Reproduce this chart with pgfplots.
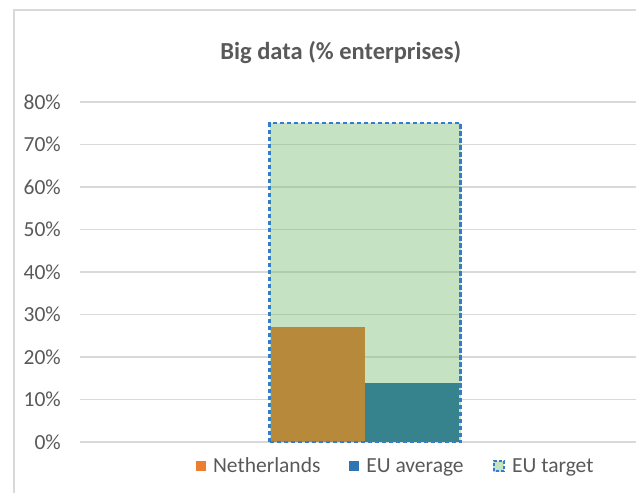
\documentclass[border=0pt]{standalone}
\usepackage{fontspec}
\setmainfont{Carlito}
\usepackage{pgfplots}
\pgfplotsset{compat=1.18}
\definecolor{txt}{RGB}{89,89,89}
\definecolor{gridc}{RGB}{217,217,217}
\definecolor{nl}{RGB}{182,138,58}
\definecolor{avg}{RGB}{54,131,142}
\definecolor{tgt}{RGB}{117,188,112}
\definecolor{tgtline}{RGB}{52,125,205}
\definecolor{leg1}{RGB}{237,125,49}
\definecolor{leg2}{RGB}{46,117,182}
\definecolor{tgtlight}{RGB}{197,227,195}
\begin{document}
\begin{tikzpicture}[x=1pt,y=1pt]
\useasboundingbox (0,0) rectangle (636,492);
\draw[gridc, line width=2pt] (14,-2) -- (14,482) -- (640,482);
\begin{axis}[at={(80pt,50pt)}, anchor=south west, scale only axis, width=556pt, height=340pt,
 xmin=-285, xmax=271, ymin=0, ymax=80,
 axis line style={draw=none}, xtick=\empty, ytick={0,10,...,80},
 major tick length=0pt,
 ymajorgrids, grid style={gridc, line width=1.3pt},
 yticklabel={\pgfmathprintnumber{\tick}\%},
 yticklabel style={inner sep=0pt, xshift=-19pt, font=\fontsize{21.5}{25}\selectfont, text=txt, anchor=east},
 /pgf/number format/assume math mode=true,
 title={Big data (\% enterprises)},
 title style={at={(axis description cs:0.469,1.127)}, anchor=center, font=\fontsize{24.5}{28}\selectfont\bfseries, text=txt},
 legend columns=3,
 legend style={at={(axis description cs:0.2086,-0.0706)}, anchor=west, draw=none, fill=none, inner sep=0pt, font=\fontsize{21.5}{25}\selectfont, nodes={text=txt},
   /tikz/every even column/.append style={column sep=27pt},
   /tikz/every odd column/.append style={column sep=5.5pt}},
 clip=false,
]
\addplot[ybar, bar shift=0pt, bar width=191, fill=tgt, fill opacity=0.42, draw=none, forget plot] coordinates {(0,75)};
\addplot[ybar, bar shift=0pt, bar width=94, fill=nl, draw=none, forget plot] coordinates {(-47,27)};
\addplot[ybar, bar shift=0pt, bar width=94, fill=avg, draw=none, forget plot] coordinates {(47,14)};
\addplot[ybar, bar shift=0pt, bar width=191, fill=none, draw=tgtline, line width=2.3pt, dash pattern=on 4.5pt off 2.5pt, forget plot] coordinates {(0,75)};
\addlegendimage{legend image code/.code={\fill[leg1] (0pt,-4.5pt) rectangle (9pt,4.5pt);}}
\addlegendentry{Netherlands}
\addlegendimage{legend image code/.code={\fill[leg2] (0pt,-4.5pt) rectangle (9pt,4.5pt);}}
\addlegendentry{EU average}
\addlegendimage{legend image code/.code={\fill[tgtlight] (0pt,-5pt) rectangle (10pt,5pt); \draw[tgtline, line width=2pt, dash pattern=on 3pt off 2pt] (0pt,-5pt) rectangle (10pt,5pt);}}
\addlegendentry{EU target}
\end{axis}
\end{tikzpicture}
\end{document}
